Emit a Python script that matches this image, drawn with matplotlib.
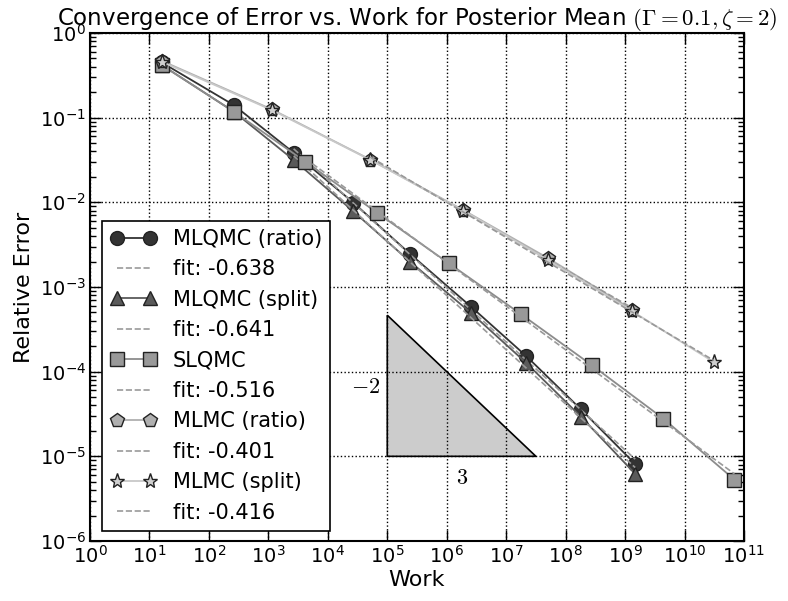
import numpy as np
import matplotlib
matplotlib.use('Agg')
import matplotlib.pyplot as plt
from matplotlib.ticker import LogLocator, FuncFormatter, NullFormatter

plt.rcParams.update({
    'mathtext.fontset': 'cm',
    'xtick.direction': 'in',
    'ytick.direction': 'in',
    'xtick.top': True,
    'ytick.right': True,
})

# ---- data ----
mlqmc_ratio_work = [16, 261, 2660, 27000, 2.4e5, 2.6e6, 2.17e7, 1.8e8, 1.48e9]
mlqmc_ratio_err = [0.45, 0.141, 0.0386, 0.0099, 0.00247, 5.8e-4, 1.53e-4, 3.6e-5, 8.1e-6]

mlqmc_split_work = [16, 261, 2660, 27000, 2.4e5, 2.6e6, 2.17e7, 1.8e8, 1.48e9]
mlqmc_split_err = [0.42, 0.118, 0.0317, 0.0078, 0.0020, 4.9e-4, 1.27e-4, 2.95e-5, 6.2e-6]

slqmc_work = [16, 261, 4170, 67000, 1.08e6, 1.75e7, 2.77e8, 4.4e9, 6.9e10]
slqmc_err = [0.419, 0.118, 0.0303, 0.00755, 0.00191, 4.81e-4, 1.19e-4, 2.79e-5, 5.3e-6]

mlmc_ratio_work = [16, 1150, 51800, 1.9e6, 5.0e7, 1.32e9]
mlmc_ratio_err = [0.47, 0.125, 0.032, 0.0081, 0.0022, 5.4e-4]

mlmc_split_work = [16, 1150, 51800, 1.9e6, 5.0e7, 1.32e9, 3.1e10]
mlmc_split_err = [0.458, 0.123, 0.0317, 0.0080, 0.00209, 5.16e-4, 1.30e-4]

series_labels = ['MLQMC (ratio)', 'MLQMC (split)', 'SLQMC', 'MLMC (ratio)', 'MLMC (split)']
fit_slopes = [-0.638, -0.641, -0.516, -0.401, -0.416]

# reference slope triangle (rise -2 over run 3, in decades)
tri_x = [1e5, 1e5, 10 ** 7.5]
tri_y = [1e-5, 10 ** (-5 + 2.5 * 2 / 3), 1e-5]

series = [
    (mlqmc_ratio_work, mlqmc_ratio_err),
    (mlqmc_split_work, mlqmc_split_err),
    (slqmc_work, slqmc_err),
    (mlmc_ratio_work, mlmc_ratio_err),
    (mlmc_split_work, mlmc_split_err),
]
styles = [
    dict(marker='o', mfc='#333333', color='#333333', ms=10),
    dict(marker='^', mfc='#5a5a5a', color='#5a5a5a', ms=10),
    dict(marker='s', mfc='#999999', color='#8c8c8c', ms=10),
    dict(marker='p', mfc='#b0b0b0', color='#b0b0b0', ms=10),
    dict(marker='*', mfc='#d0d0d0', color='#c8c8c8', ms=11),
]

fig = plt.figure(figsize=(7.88, 6.01), dpi=100)
ax = fig.add_axes([90 / 788, 1 - 541 / 601, (744 - 90) / 788, (541 - 33) / 601])

for (w, e), lab, slope, st in zip(series, series_labels, fit_slopes, styles):
    ax.loglog(w, e, linestyle='-', linewidth=1.3, mec='#222222', mew=1.0,
              label=lab, **st)
    # fitted rate, drawn over the finer levels only
    lw = np.log10(w[2:])
    le = np.log10(e[2:])
    b = np.mean(le - slope * lw)
    xs = np.array([lw[0], lw[-1]])
    ax.loglog(10 ** xs, 10 ** (b + slope * xs), linestyle='--', color='#999999',
              linewidth=1.2, label=f'fit: {slope:.3f}')

ax.fill(tri_x, tri_y, facecolor='#cccccc', edgecolor='black', linewidth=1.2, zorder=1)
ax.text(10 ** 4.63, 10 ** -4.18, r'$-2$', fontsize=16, ha='center', va='center')
ax.text(10 ** 6.26, 10 ** -5.26, r'$3$', fontsize=16, ha='center', va='center')

ax.set_xlim(1, 1e11)
ax.set_ylim(1e-6, 1)
ax.xaxis.set_major_locator(LogLocator(base=10, numticks=20))
ax.yaxis.set_major_locator(LogLocator(base=10, numticks=20))
ax.xaxis.set_minor_formatter(NullFormatter())
ax.yaxis.set_minor_formatter(NullFormatter())
fmt = FuncFormatter(lambda v, p: r'$\mathregular{10^{%d}}$' % int(round(np.log10(v))))
ax.xaxis.set_major_formatter(fmt)
ax.yaxis.set_major_formatter(fmt)
ax.tick_params(which='major', length=8, width=1, labelsize=14, pad=3)
ax.tick_params(which='minor', length=4, width=1)
for s in ax.spines.values():
    s.set_linewidth(1.5)
ax.grid(True, which='major', linestyle=':', color='black', linewidth=1)

ax.set_xlabel('Work', fontsize=16, labelpad=2)
ax.set_ylabel('Relative Error', fontsize=16, labelpad=4)
ax.set_title(r'Convergence of Error vs. Work for Posterior Mean $(\Gamma = 0.1, \zeta = 2)$',
             fontsize=16.5, pad=4)

leg = ax.legend(loc='lower left', bbox_to_anchor=(12 / 654, 10 / 508), borderaxespad=0,
                numpoints=2, fontsize=15, fancybox=False, framealpha=1,
                edgecolor='black', handlelength=2.2, labelspacing=0.5)
leg.get_frame().set_linewidth(1.2)

fig.savefig('out.png', dpi=100)
